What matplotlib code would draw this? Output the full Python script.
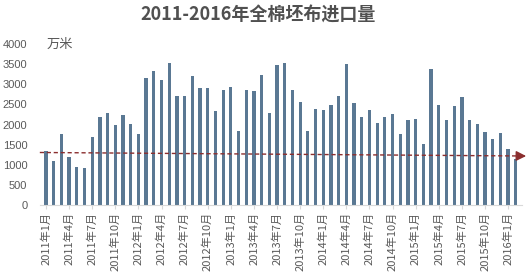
import numpy as np
import matplotlib
matplotlib.use('Agg')
from matplotlib import pyplot as plt

plt.rcParams['font.family'] = ['Noto Sans CJK SC', 'DejaVu Sans']

# monthly imports, 2011-01 .. 2016-02 (万米)
values = [1340, 1090, 1760, 1200, 950, 930, 1700, 2190, 2290, 1990, 2240, 2010,
          1760, 3150, 3340, 3110, 3530, 2710, 2710, 3200, 2910, 2910, 2340, 2860,
          2920, 1840, 2860, 2830, 3240, 2290, 3490, 3540, 2860, 2570, 1840, 2390,
          2360, 2480, 2720, 3500, 2540, 2180, 2360, 2030, 2180, 2260, 1760, 2110,
          2140, 1520, 3380, 2490, 2100, 2460, 2680, 2110, 2010, 1810, 1640, 1780,
          1390, 1140]
months = ['%d年%d月' % (2011 + i // 12, i % 12 + 1) for i in range(len(values))]
trend = [1305, 1218]  # dashed trend line, start / end value

title = '2011-2016年全棉坯布进口量'
unit = '万米'
grey = '#595959'

fig = plt.figure(figsize=(5.31, 2.78), dpi=100)
ax = fig.add_axes([0.075, 0.2626, 0.908, 0.579])

x = np.arange(len(values))
ax.bar(x, values, width=0.42, color='#5A7893', zorder=2)

ax.plot([-0.8, 61.9], trend, color='#8B2E2E', lw=1.0, ls=(0, (3, 2)), zorder=3, clip_on=False)
ax.annotate('', xy=(62.7, trend[1] - 2), xytext=(61.6, trend[1]),
            arrowprops=dict(arrowstyle='-|>,head_length=0.6,head_width=0.3', color='#8B2E2E', lw=1.0),
            annotation_clip=False, zorder=3)

ax.set_xlim(-0.8, 61.8)
ax.set_ylim(0, 4000)
ax.set_yticks(range(0, 4001, 500))
ax.set_yticklabels([str(v) for v in range(0, 4001, 500)], fontsize=8, color=grey, family='Liberation Sans')
ax.set_xticks(x[::3])
ax.set_xticklabels(months[::3], rotation=90, fontsize=8, color=grey)
ax.tick_params(axis='y', length=0, pad=9)
ax.tick_params(axis='x', length=3, color='#D9D9D9', pad=2)
for s in ['top', 'right', 'left']:
    ax.spines[s].set_visible(False)
ax.spines['bottom'].set_color('#D9D9D9')

fig.text(0.486, 0.945, title, ha='center', va='center', fontsize=13, fontweight='bold', color='#505050')
fig.text(0.088, 0.842, unit, ha='left', va='center', fontsize=9.5, color=grey)

fig.savefig('out.png', dpi=100)
